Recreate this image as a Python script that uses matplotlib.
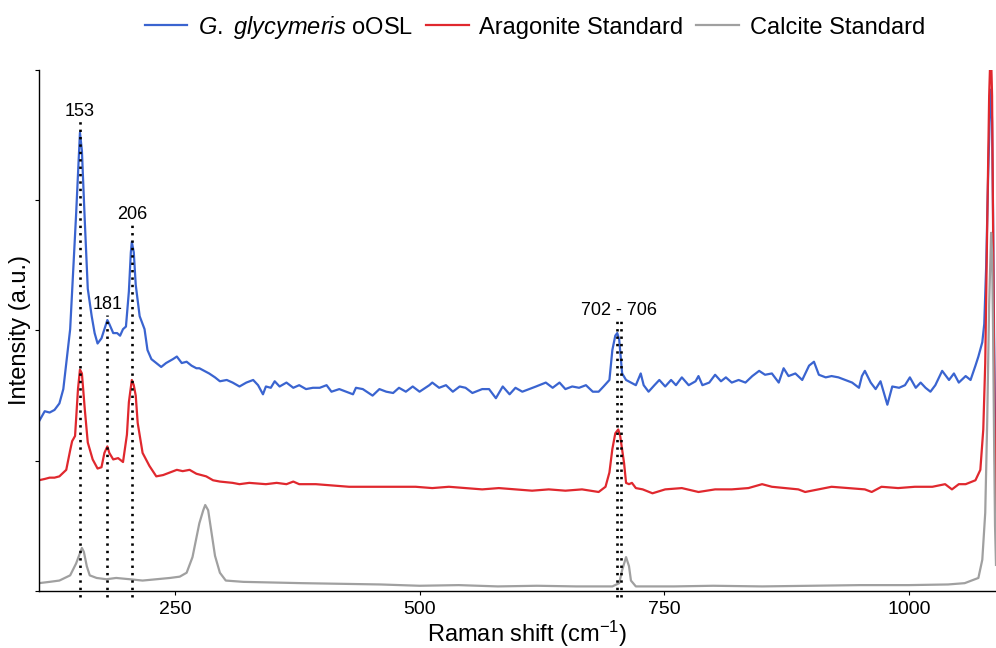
import matplotlib
matplotlib.use("Agg")
import matplotlib.pyplot as plt

plt.rcParams['font.family'] = ['Liberation Sans', 'DejaVu Sans']
plt.rcParams['mathtext.fontset'] = 'custom'
plt.rcParams['mathtext.rm'] = 'Liberation Sans'
plt.rcParams['mathtext.it'] = 'Liberation Sans:italic'

# ---- data (Raman shift, intensity a.u. with vertical offsets as shown) ----
blue_pts = [(111,1.30),(117,1.38),(122,1.37),(127,1.39),(132,1.44),(136,1.55),(139,1.75),(143,2.01),
            (146,2.44),(149,2.88),(152,3.35),(153,3.52),(155,3.38),(158,2.83),(161,2.32),(165,2.11),
            (168,1.98),(171,1.90),(175,1.94),(178,2.01),(181,2.08),(183,2.05),(187,1.98),(191,1.98),
            (194,1.96),(197,2.01),(200,2.03),(203,2.30),(205,2.60),(206,2.68),(208,2.60),(210,2.35),
            (214,2.11),(219,2.01),(222,1.85),(226,1.78),(231,1.75),(236,1.72),(241,1.75),(248,1.78),
            (252,1.80),(257,1.75),(262,1.76),(267,1.73),(272,1.71),(275,1.71),(280,1.69),(285,1.67),
            (291,1.64),(296,1.61),(303,1.62),(309,1.60),(316,1.57),(323,1.60),(330,1.62),(335,1.58),
            (340,1.51),(343,1.57),(348,1.56),(352,1.61),(357,1.57),(364,1.60),(371,1.56),(377,1.58),
            (384,1.55),(391,1.56),(398,1.56),(405,1.58),(410,1.53),(418,1.55),(425,1.53),(432,1.51),
            (435,1.56),(442,1.55),(452,1.50),(459,1.55),(466,1.53),(473,1.52),(479,1.56),(486,1.53),
            (493,1.57),(500,1.53),(510,1.58),(513,1.60),(520,1.56),(527,1.58),(534,1.53),(541,1.57),
            (547,1.56),(554,1.52),(564,1.55),(571,1.55),(578,1.48),(585,1.57),(592,1.51),(598,1.56),
            (605,1.53),(612,1.55),(619,1.57),(629,1.60),(636,1.56),(643,1.60),(649,1.55),(656,1.57),
            (663,1.56),(670,1.58),(677,1.53),(683,1.53),(688,1.57),(694,1.62),(697,1.85),(700,1.96),
            (702,1.98),(704,1.93),(707,1.67),(711,1.62),(716,1.60),(721,1.58),(726,1.67),(729,1.58),
            (734,1.53),(740,1.58),(745,1.62),(751,1.57),(757,1.62),(762,1.58),(768,1.64),(775,1.58),
            (782,1.61),(785,1.65),(789,1.58),(796,1.60),(802,1.66),(808,1.61),(813,1.64),(819,1.60),
            (826,1.62),(833,1.60),(840,1.65),(847,1.69),(853,1.66),(860,1.67),(867,1.60),(872,1.71),
            (877,1.65),(884,1.67),(891,1.62),(898,1.73),(903,1.76),(908,1.66),(915,1.64),(921,1.65),
            (928,1.64),(935,1.62),(942,1.60),(949,1.56),(952,1.65),(955,1.69),(961,1.60),(966,1.55),
            (971,1.61),(978,1.43),(983,1.57),(990,1.56),(996,1.58),(1001,1.64),(1007,1.56),(1012,1.60),
            (1017,1.56),(1022,1.53),(1027,1.58),(1034,1.69),(1041,1.62),(1046,1.67),(1051,1.60),
            (1058,1.65),(1063,1.62),(1068,1.73),(1071,1.80),(1075,1.91),(1077,2.05),(1079,2.50),
            (1081,3.20),(1083,3.75),(1084,3.85),(1085,3.60),(1086,2.90),(1087,2.00),(1088,1.30),(1089,0.90)]

red_pts = [(111,0.85),(117,0.86),(122,0.87),(127,0.87),(132,0.88),(139,0.93),(143,1.08),(145,1.15),
           (148,1.19),(151,1.55),(153,1.70),(155,1.67),(158,1.39),(161,1.14),(166,1.01),(171,0.94),
           (175,0.95),(178,1.06),(181,1.11),(183,1.06),(187,1.01),(192,1.02),(197,0.99),(201,1.20),
           (203,1.45),(206,1.62),(208,1.58),(210,1.50),(212,1.29),(217,1.06),(224,0.96),(231,0.88),
           (238,0.89),(245,0.91),(252,0.93),(258,0.92),(265,0.93),(272,0.90),(282,0.88),(289,0.85),
           (296,0.84),(309,0.83),(316,0.82),(326,0.83),(343,0.82),(354,0.83),(364,0.82),(371,0.84),
           (377,0.82),(394,0.82),(411,0.81),(428,0.80),(445,0.80),(462,0.80),(479,0.80),(496,0.80),
           (513,0.79),(530,0.80),(547,0.79),(564,0.78),(581,0.79),(598,0.78),(615,0.77),(632,0.78),
           (649,0.77),(666,0.78),(683,0.76),(690,0.80),(694,0.91),(697,1.09),(700,1.21),(703,1.24),
           (705,1.19),(709,0.98),(711,0.83),(714,0.82),(717,0.83),(721,0.79),(728,0.78),(738,0.75),
           (751,0.78),(768,0.79),(785,0.76),(802,0.78),(819,0.78),(836,0.79),(850,0.82),(860,0.80),
           (887,0.78),(894,0.76),(921,0.80),(938,0.79),(955,0.78),(962,0.76),(972,0.80),(989,0.79),
           (1006,0.80),(1024,0.80),(1037,0.82),(1044,0.78),(1051,0.82),(1058,0.82),(1068,0.85),
           (1073,0.93),(1076,1.24),(1078,1.75),(1080,2.80),(1082,3.80),(1083,4.05),(1084,4.10),
           (1085,3.80),(1086,2.80),(1087,1.80),(1088,1.00),(1089,0.60)]

gray_pts = [(111,0.06),(122,0.07),(132,0.08),(143,0.12),(149,0.21),(153,0.29),(155,0.33),(157,0.30),
            (160,0.19),(163,0.12),(170,0.10),(180,0.09),(190,0.10),(204,0.09),(217,0.08),(231,0.09),
            (245,0.10),(255,0.11),(262,0.14),(268,0.26),(275,0.52),(279,0.62),(281,0.66),(284,0.62),
            (287,0.47),(291,0.27),(296,0.14),(302,0.08),(320,0.07),(350,0.065),(380,0.06),(420,0.055),
            (460,0.05),(500,0.04),(540,0.045),(580,0.035),(620,0.04),(660,0.035),(697,0.035),(704,0.06),
            (707,0.16),(711,0.26),(714,0.19),(716,0.08),(721,0.035),(760,0.035),(800,0.04),(850,0.035),
            (900,0.04),(950,0.045),(1000,0.045),(1040,0.05),(1057,0.06),(1071,0.10),(1075,0.24),
            (1078,0.60),(1080,1.30),(1082,2.20),(1084,2.75),(1085,2.60),(1086,2.00),(1087,1.20),
            (1088,0.50),(1089,0.20)]

series_labels = [r"$\mathit{G.\ glycymeris}$ oOSL", "Aragonite Standard", "Calcite Standard"]
series_colors = ["#3A64D0", "#E0282E", "#A0A0A0"]

peak_positions = [153, 181, 206, 702, 706]
peak_tops = [3.62, 2.12, 2.81, 2.07, 2.07]
peak_labels = ["153", "181", "206", "702 - 706"]
peak_label_x = [153, 181, 206, 704]
peak_label_y = [3.68, 2.20, 2.89, 2.15]

xticks = [250, 500, 750, 1000]

# ---- figure ----
fig = plt.figure(figsize=(9.96, 6.48), dpi=100)
ax = fig.add_axes([0.039, 0.088, 0.961, 0.804])

for pts, lab, col in zip([blue_pts, red_pts, gray_pts], series_labels, series_colors):
    xs, ys = zip(*pts)
    ax.plot(xs, ys, color=col, lw=1.6, label=lab, solid_joinstyle='round')

for px, top in zip(peak_positions, peak_tops):
    ax.plot([px, px], [-0.05, top], color='black', lw=1.9,
            linestyle=(0, (0.9, 1.9)), clip_on=False, zorder=5)

for lx, ly, t in zip(peak_label_x, peak_label_y, peak_labels):
    ax.text(lx, ly, t, ha='center', va='center', fontsize=13)

ax.set_xlim(111, 1089)
ax.set_ylim(0, 4.0)
ax.set_xticks(xticks)
ax.set_xticklabels([str(v) for v in xticks], fontsize=14)
ax.set_yticks([0, 1, 2, 3, 4])
ax.set_yticklabels([])
ax.tick_params(axis='both', direction='out', length=3, width=0.8, color='black')
ax.tick_params(axis='x', pad=4)

for s in ['top', 'right']:
    ax.spines[s].set_visible(False)
for s in ['left', 'bottom']:
    ax.spines[s].set_color('black')
    ax.spines[s].set_linewidth(1.0)

ax.set_xlabel("Raman shift (cm$^{-1}$)", fontsize=17)
ax.xaxis.label.set_va('center')
ax.xaxis.set_label_coords(0.51, -0.083)
ax.set_ylabel("Intensity (a.u.)", fontsize=17)
ax.yaxis.label.set_va('center')
ax.yaxis.set_label_coords(-0.0195, 0.5)

fig.legend(loc='center', bbox_to_anchor=(0.537, 0.958), ncol=3, frameon=False,
           fontsize=17, handlelength=1.8, handletextpad=0.45, columnspacing=0.55)

fig.savefig("out.png", dpi=100)
